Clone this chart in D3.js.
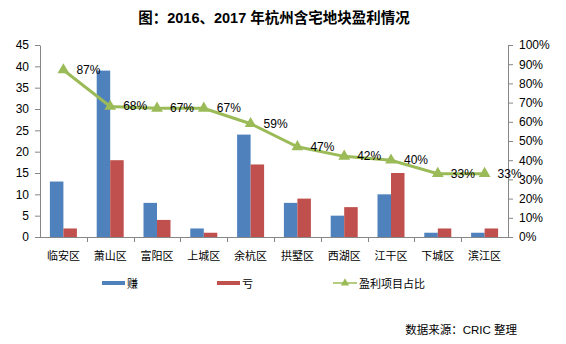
<!DOCTYPE html>
<html><head><meta charset="utf-8">
<script src="https://cdn.jsdelivr.net/npm/d3@7"></script>
<style>body{margin:0;background:#fff}svg{display:block}</style>
</head><body>
<script>
const categories = ["临安区","萧山区","富阳区","上城区","余杭区","拱墅区","西湖区","江干区","下城区","滨江区"];
const profit = [13, 39, 8, 2, 24, 8, 5, 10, 1, 1];
const loss = [2, 18, 4, 1, 17, 9, 7, 15, 2, 2];
const ratio = [87, 68, 67, 67, 59, 47, 42, 40, 33, 33];
const leftTicks = [0,5,10,15,20,25,30,35,40,45];
const rightTicks = [0,10,20,30,40,50,60,70,80,90,100];
const seriesNames = ["赚","亏","盈利项目占比"];
const title = "图：2016、2017 年杭州含宅地块盈利情况";
const source = "数据来源：CRIC 整理";

const W=566,H=344;
const m={l:40,r:508,t:45,b:237};
const font='"Liberation Sans", Arial, "Noto Sans CJK SC", sans-serif';
const cjk='"Noto Sans CJK SC", sans-serif';
const svg=d3.select("body").append("svg").attr("width",W).attr("height",H).style("font-family",font);

const x=d3.scaleBand().domain(categories).range([m.l,m.r]);
const xs=d3.scaleBand().domain(["p","l"]).range([0,27]);
const yL=d3.scaleLinear().domain([0,45]).range([m.b,m.t]);
const yR=d3.scaleLinear().domain([0,100]).range([m.b,m.t]);
const blue="#4F81BD",red="#C0504D",green="#9BBB59",axisC="#868686";

svg.append("text").attr("x",274).attr("y",23).attr("text-anchor","middle")
 .attr("font-size",14.5).attr("font-weight","bold").attr("fill","#000").text(title);

// bars
const off=(x.bandwidth()-27)/2;
const g=svg.append("g");
categories.forEach((c,i)=>{
  g.append("rect").attr("x",x(c)+off+xs("p")).attr("width",xs.bandwidth()).attr("y",yL(profit[i])).attr("height",yL(0)-yL(profit[i])).attr("fill",blue);
  g.append("rect").attr("x",x(c)+off+xs("l")).attr("width",xs.bandwidth()).attr("y",yL(loss[i])).attr("height",yL(0)-yL(loss[i])).attr("fill",red);
});

// axes
const la=svg.append("g").attr("transform",`translate(${m.l},0)`)
 .call(d3.axisLeft(yL).tickValues(leftTicks).tickSize(5).tickSizeOuter(0).tickPadding(6));
const ra=svg.append("g").attr("transform",`translate(${m.r},0)`)
 .call(d3.axisRight(yR).tickValues(rightTicks).tickSize(5).tickSizeOuter(0).tickFormat(d=>d+"%").tickPadding(6));
[la,ra].forEach(a=>{a.selectAll("path,line").attr("stroke",axisC);a.selectAll("text").attr("font-size",12).attr("fill","#000").style("font-family",font);});

// x axis
const xa=svg.append("g");
xa.append("line").attr("x1",m.l).attr("x2",m.r).attr("y1",m.b+0.5).attr("y2",m.b+0.5).attr("stroke",axisC);
categories.forEach((c,i)=>{
  if(i>0) xa.append("line").attr("x1",Math.round(x(c))+0.5).attr("x2",Math.round(x(c))+0.5).attr("y1",m.b).attr("y2",m.b+5).attr("stroke",axisC);
  xa.append("text").attr("x",x(c)+x.bandwidth()/2).attr("y",259.5).attr("text-anchor","middle").attr("font-size",11).attr("fill","#000").style("font-family",cjk).text(c);
});

// line
const pts=categories.map((c,i)=>[x(c)+x.bandwidth()/2,yR(ratio[i])]);
svg.append("path").attr("d",d3.line()(pts)).attr("fill","none").attr("stroke",green).attr("stroke-width",3);
const tri=d3.symbol().type(d3.symbolTriangle).size(60);
pts.forEach((p,i)=>{
  svg.append("path").attr("d",tri()).attr("transform",`translate(${p[0]},${p[1]})`).attr("fill",green);
  svg.append("text").attr("x",p[0]+13).attr("y",p[1]+4).attr("font-size",12).attr("fill","#000").text(ratio[i]+"%");
});

// legend
const ly=283;
const lg=svg.append("g");
lg.append("rect").attr("x",102).attr("y",ly-2).attr("width",23).attr("height",4).attr("fill",blue);
lg.append("text").attr("x",127).attr("y",ly+4.5).attr("font-size",11).style("font-family",cjk).text(seriesNames[0]);
lg.append("rect").attr("x",217).attr("y",ly-2).attr("width",23).attr("height",4).attr("fill",red);
lg.append("text").attr("x",242).attr("y",ly+4.5).attr("font-size",11).style("font-family",cjk).text(seriesNames[1]);
lg.append("line").attr("x1",333).attr("x2",357).attr("y1",ly).attr("y2",ly).attr("stroke",green).attr("stroke-width",1.5);
lg.append("path").attr("d",d3.symbol().type(d3.symbolTriangle).size(30)()).attr("transform",`translate(345,${ly})`).attr("fill",green);
lg.append("text").attr("x",359).attr("y",ly+4.5).attr("font-size",11).style("font-family",cjk).text(seriesNames[2]);

svg.append("text").attr("x",517).attr("y",334).attr("text-anchor","end").attr("font-size",11.5).attr("fill","#000").style("font-family",font).text(source);
</script>
</body></html>
